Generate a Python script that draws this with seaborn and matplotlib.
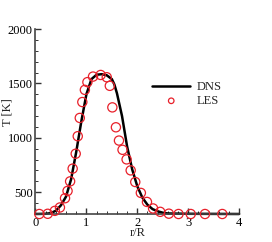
import matplotlib
matplotlib.use("Agg")
import matplotlib.pyplot as plt
import pandas as pd
import seaborn as sns
from matplotlib.ticker import MultipleLocator

# DNS profile (solid line)
dns_r = [0.0, 0.2, 0.3, 0.4, 0.5, 0.6, 0.7, 0.8, 0.9, 1.0, 1.1, 1.2, 1.3, 1.4,
         1.5, 1.55, 1.6, 1.7, 1.8, 1.9, 2.0, 2.1, 2.2, 2.3, 2.4, 2.5, 2.6, 3.0, 4.0]
dns_T = [300, 302, 308, 330, 380, 460, 620, 870, 1150, 1400, 1540, 1580, 1585, 1575,
         1540, 1490, 1410, 1200, 920, 710, 555, 450, 385, 345, 325, 312, 305, 302, 300]

# LES samples (open circles)
les_r = [0.075, 0.24, 0.38, 0.48, 0.58, 0.63, 0.68, 0.73, 0.79, 0.83, 0.87, 0.92,
         0.97, 1.02, 1.13, 1.28, 1.40, 1.46, 1.51, 1.58, 1.64, 1.71, 1.79, 1.87,
         1.96, 2.07, 2.19, 2.31, 2.45, 2.62, 2.81, 3.05, 3.33, 3.67]
les_T = [300, 302, 329, 360, 445, 512, 600, 717, 854, 1015, 1183, 1329,
         1441, 1512, 1563, 1578, 1557, 1478, 1280, 1097, 975, 890, 802, 701,
         594, 494, 411, 351, 320, 303, 300, 300, 300, 300]

sns.set_theme(style="ticks")
plt.rcParams["font.family"] = ["Liberation Serif", "DejaVu Serif"]

dns = pd.DataFrame({"r": dns_r, "T": dns_T})
les = pd.DataFrame({"r": les_r, "T": les_T})

fig = plt.figure(figsize=(2.72, 2.42), dpi=100)
ax = fig.add_axes([0.1305, 0.1157, 0.879 - 0.1305, 0.880 - 0.1157])

sns.lineplot(data=dns, x="r", y="T", ax=ax, color="black", linewidth=1.8,
             label="DNS", clip_on=False)
sns.scatterplot(data=les, x="r", y="T", ax=ax, marker="o", s=44,
                facecolors="none", edgecolor="#e8202a", linewidth=0.9,
                label="LES", clip_on=False, zorder=3)

ax.set_xlim(0, 4)
ax.set_ylim(300, 2000)
ax.xaxis.set_major_locator(MultipleLocator(1))
ax.xaxis.set_minor_locator(MultipleLocator(0.2))
ax.set_yticks([500, 1000, 1500, 2000])
ax.yaxis.set_minor_locator(MultipleLocator(100))
ax.tick_params(which="both", direction="in", colors="#333333", labelcolor="black",
               labelsize=9, pad=2)
ax.tick_params(which="major", length=4, width=1)
ax.tick_params(which="minor", length=2, width=0.7)

sns.despine(ax=ax)
for side in ["left", "bottom"]:
    ax.spines[side].set_color("#444444")
    ax.spines[side].set_linewidth(1.2)

ax.set_xlabel("r/R", fontsize=9, labelpad=-1)
ax.set_ylabel("T [K]", fontsize=9)
ax.yaxis.set_label_coords(-0.11, 0.55)

ax.legend(loc="upper left", bbox_to_anchor=(0.55, 0.745), frameon=False,
          fontsize=9, handlelength=3.0, handletextpad=0.5, labelspacing=0.15,
          markerscale=0.6, borderaxespad=0)

fig.savefig("out.png", dpi=100)
